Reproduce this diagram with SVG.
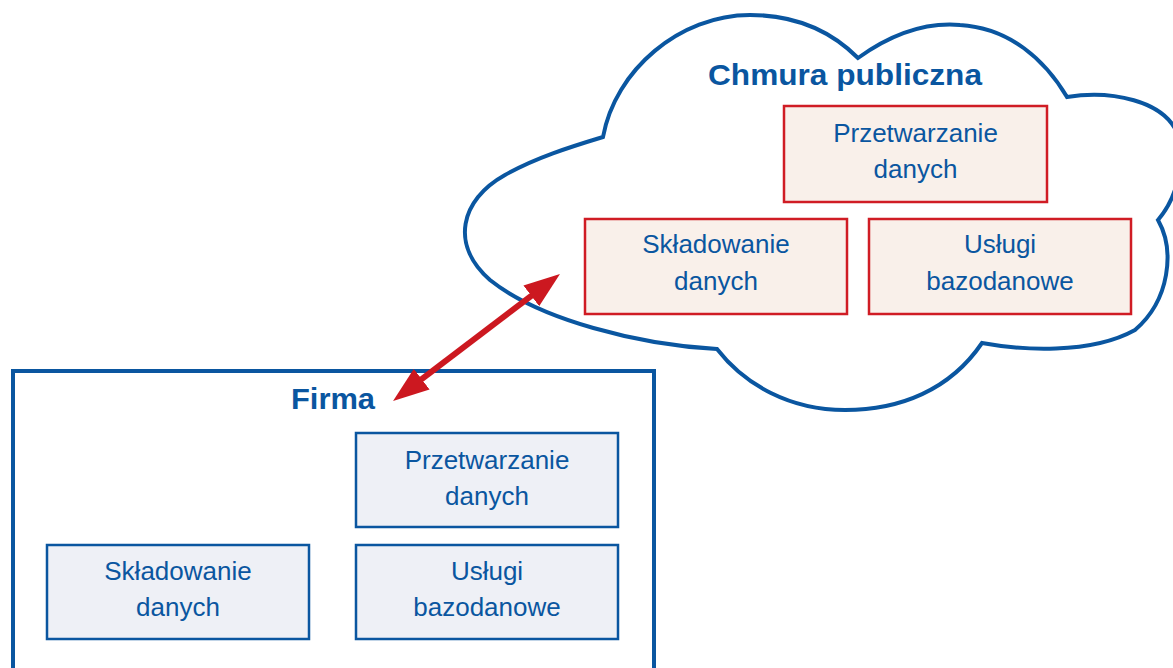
<svg xmlns="http://www.w3.org/2000/svg" width="1173" height="668" viewBox="0 0 1173 668">
<defs>
<style>
.title{font-family:"Liberation Sans",Arial,sans-serif;font-weight:bold;font-size:29.5px;fill:#0a56a0;text-anchor:middle}
.lbl{font-family:"Liberation Sans",Arial,sans-serif;font-size:26px;fill:#0a56a0;text-anchor:middle}
.cbox{fill:#f9f0ea;stroke:#d01c24;stroke-width:2.5}
.fbox{fill:#eef0f6;stroke:#0a56a0;stroke-width:2.5}
</style>
<marker id="ah" viewBox="0 0 36 26" markerUnits="userSpaceOnUse" markerWidth="36" markerHeight="26" refX="24" refY="13" orient="auto-start-reverse">
<path d="M0,0 L36,13 L0,26 Z" fill="#cc1820"/>
</marker>
</defs>
<rect width="1173" height="668" fill="#ffffff"/>
<g id="cloud">
<path d="M603,137 C615,70 680,15 750,15 C800,15 835,35 858,58 C890,35 925,22 960,25 C1010,28 1045,60 1067,97 C1110,90 1165,100 1178,135 C1185,170 1175,200 1158,220 C1175,250 1170,300 1135,330 C1090,355 1020,350 982,343 C950,390 900,410 845,410 C790,410 745,385 717,349 C640,345 540,320 490,280 C450,245 460,200 505,175 C535,158 570,147 603,137 Z" fill="#ffffff" stroke="#0a56a0" stroke-width="4"/>
<text class="title" x="845" y="85" textLength="274" lengthAdjust="spacingAndGlyphs">Chmura publiczna</text>
</g>
<g id="cloud-przetwarzanie">
<rect class="cbox" x="784" y="106" width="263" height="96"/>
<text class="lbl" x="915.5" y="141.5">Przetwarzanie</text>
<text class="lbl" x="915.5" y="178">danych</text>
</g>
<g id="cloud-skladowanie">
<rect class="cbox" x="585" y="219" width="262" height="95"/>
<text class="lbl" x="716" y="253">Składowanie</text>
<text class="lbl" x="716" y="290">danych</text>
</g>
<g id="cloud-uslugi">
<rect class="cbox" x="869" y="219" width="262" height="95"/>
<text class="lbl" x="1000" y="253">Usługi</text>
<text class="lbl" x="1000" y="290">bazodanowe</text>
</g>
<g id="firma">
<rect x="13" y="371" width="641" height="310" fill="#ffffff" stroke="#0a56a0" stroke-width="4"/>
<text class="title" x="333" y="409" textLength="84" lengthAdjust="spacingAndGlyphs">Firma</text>
</g>
<g id="firma-przetwarzanie">
<rect class="fbox" x="356" y="433" width="262" height="94"/>
<text class="lbl" x="487" y="469">Przetwarzanie</text>
<text class="lbl" x="487" y="505">danych</text>
</g>
<g id="firma-skladowanie">
<rect class="fbox" x="47" y="545" width="262" height="94"/>
<text class="lbl" x="178" y="580">Składowanie</text>
<text class="lbl" x="178" y="616">danych</text>
</g>
<g id="firma-uslugi">
<rect class="fbox" x="356" y="545" width="262" height="94"/>
<text class="lbl" x="487" y="580">Usługi</text>
<text class="lbl" x="487" y="616">bazodanowe</text>
</g>
<g id="connectors">
<line x1="402.6" y1="393.7" x2="550.4" y2="281.3" stroke="#cc1820" stroke-width="6" marker-start="url(#ah)" marker-end="url(#ah)"/>
</g>
</svg>
